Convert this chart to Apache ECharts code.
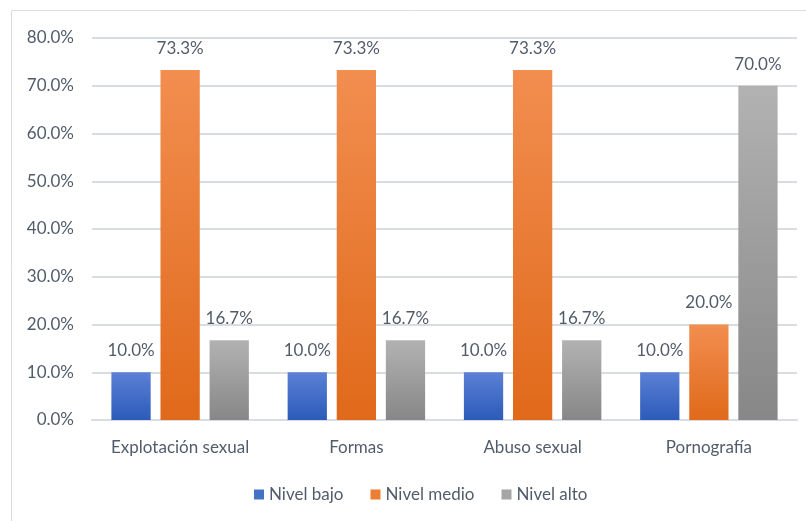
<!DOCTYPE html>
<html>
<head>
<meta charset="utf-8">
<script src="https://cdn.jsdelivr.net/npm/echarts@6/dist/echarts.min.js"></script>
<style>html,body{margin:0;padding:0;background:#fff}#c{width:806px;height:521px}</style>
</head>
<body>
<div id="c"></div>
<script>
const categories = ['Explotación sexual', 'Formas', 'Abuso sexual', 'Pornografía'];
const nivelBajo = [10.0, 10.0, 10.0, 10.0];
const nivelMedio = [73.3, 73.3, 73.3, 20.0];
const nivelAlto = [16.7, 16.7, 16.7, 70.0];
const seriesNames = ['Nivel bajo', 'Nivel medio', 'Nivel alto'];

const txt = '#515c6b';
const font = 'Lato';
function grad(a, b) {
  return new echarts.graphic.LinearGradient(0, 0, 0, 1, [{offset: 0, color: a}, {offset: 1, color: b}]);
}
const colors = [grad('#5b80d6', '#2c5bb9'), grad('#f28e50', '#e0691a'), grad('#b2b2b2', '#878787')];
const legendColors = ['#4472c4', '#ed7d31', '#a5a5a5'];
const data = [nivelBajo, nivelMedio, nivelAlto];

const chart = echarts.init(document.getElementById('c'));
chart.setOption({
  animation: false,
  graphic: [{type: 'rect', shape: {x: 11.5, y: 10.5, width: 820, height: 540}, style: {fill: 'none', stroke: '#d9dde3', lineWidth: 1}, silent: true}],
  grid: {left: 92, right: 9, top: 38, bottom: 101},
  legend: {
    bottom: 13, left: 249, itemWidth: 10, itemHeight: 10, itemGap: 27,
    icon: 'rect',
    textStyle: {color: txt, fontFamily: font, fontSize: 17},
    data: seriesNames.map((n, i) => ({name: n, itemStyle: {color: legendColors[i]}}))
  },
  xAxis: {
    type: 'category', data: categories,
    axisLine: {lineStyle: {color: '#d9dde3', width: 2}},
    axisTick: {show: false},
    axisLabel: {interval: 0, hideOverlap: false, color: txt, fontFamily: font, fontSize: 17, margin: 19}
  },
  yAxis: {
    type: 'value', min: 0, max: 80, interval: 10,
    axisLine: {show: false}, axisTick: {show: false},
    splitLine: {lineStyle: {color: '#d9dde3', width: 2}},
    axisLabel: {color: txt, fontFamily: font, fontSize: 17, margin: 18, formatter: v => v.toFixed(1) + '%'}
  },
  series: data.map((d, i) => ({
    name: seriesNames[i], type: 'bar', data: d,
    barGap: '25%', barCategoryGap: '22%',
    itemStyle: {color: colors[i]},
    label: {show: true, position: 'top', distance: 13, color: txt, fontFamily: font, fontSize: 17, formatter: p => p.value.toFixed(1) + '%'}
  }))
});
</script>
</body>
</html>
